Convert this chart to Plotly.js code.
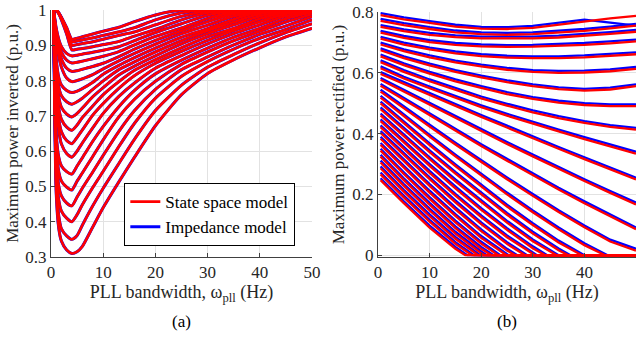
<!DOCTYPE html>
<html>
<head>
<meta charset="utf-8">
<script src="https://cdn.plot.ly/plotly-3.0.1.min.js"></script>
<style>
  html, body { margin: 0; padding: 0; background: #ffffff; }
  #chart { width: 643px; height: 340px; }
</style>
</head>
<body>
<div id="chart"></div>
<script>
// ---------- Panel (a): maximum power inverted ----------
const invX = [0.5, 1, 1.5, 2, 3, 4, 5, 6, 8, 10, 13, 16, 20, 25, 30, 35, 40, 45, 50];
const invCurves = [
  [1.0, 0.48, 0.38, 0.345, 0.32, 0.31, 0.315, 0.33, 0.385, 0.44, 0.513, 0.583, 0.672, 0.76, 0.82, 0.859, 0.893, 0.924, 0.948],
  [1.0, 0.51, 0.415, 0.38, 0.36, 0.35, 0.361, 0.39, 0.445, 0.495, 0.565, 0.634, 0.715, 0.787, 0.838, 0.874, 0.907, 0.936, 0.961],
  [1.0, 0.55, 0.46, 0.43, 0.41, 0.40, 0.42, 0.448, 0.497, 0.543, 0.613, 0.679, 0.75, 0.812, 0.854, 0.889, 0.92, 0.945, 0.972],
  [1.0, 0.585, 0.50, 0.473, 0.453, 0.445, 0.47, 0.495, 0.541, 0.588, 0.656, 0.715, 0.775, 0.831, 0.867, 0.901, 0.931, 0.955, 0.981],
  [1.0, 0.62, 0.54, 0.515, 0.498, 0.49, 0.515, 0.538, 0.585, 0.632, 0.697, 0.747, 0.798, 0.846, 0.881, 0.913, 0.94, 0.966, 0.988],
  [1.0, 0.65, 0.582, 0.558, 0.542, 0.535, 0.558, 0.581, 0.628, 0.67, 0.726, 0.772, 0.819, 0.858, 0.892, 0.923, 0.948, 0.975, 0.994],
  [1.0, 0.75, 0.658, 0.62, 0.593, 0.583, 0.6, 0.623, 0.666, 0.707, 0.755, 0.793, 0.835, 0.871, 0.904, 0.933, 0.958, 0.983, 0.997],
  [1.0, 0.773, 0.689, 0.655, 0.63, 0.621, 0.639, 0.66, 0.702, 0.735, 0.778, 0.814, 0.849, 0.883, 0.914, 0.942, 0.967, 0.989, 1.0],
  [1.0, 0.795, 0.72, 0.69, 0.668, 0.659, 0.674, 0.695, 0.728, 0.76, 0.797, 0.829, 0.859, 0.893, 0.924, 0.948, 0.975, 0.994, 1.0],
  [1.0, 0.818, 0.752, 0.724, 0.705, 0.697, 0.707, 0.722, 0.754, 0.78, 0.816, 0.841, 0.87, 0.904, 0.933, 0.958, 0.982, 0.997, 1.0],
  [1.0, 0.84, 0.781, 0.757, 0.74, 0.733, 0.74, 0.75, 0.775, 0.799, 0.831, 0.853, 0.881, 0.913, 0.941, 0.966, 0.989, 1.0, 1.0],
  [1.0, 0.86, 0.808, 0.787, 0.772, 0.766, 0.77, 0.777, 0.795, 0.818, 0.843, 0.865, 0.892, 0.923, 0.947, 0.974, 0.994, 1.0, 1.0],
  [1.0, 0.919, 0.868, 0.838, 0.807, 0.797, 0.8, 0.805, 0.817, 0.833, 0.856, 0.877, 0.903, 0.933, 0.957, 0.982, 0.997, 1.0, 1.0],
  [1.0, 0.93, 0.887, 0.861, 0.835, 0.826, 0.828, 0.832, 0.84, 0.849, 0.868, 0.889, 0.914, 0.941, 0.967, 0.989, 1.0, 1.0, 1.0],
  [1.0, 0.94, 0.903, 0.88, 0.858, 0.85, 0.852, 0.855, 0.862, 0.869, 0.882, 0.901, 0.925, 0.949, 0.976, 0.994, 1.0, 1.0, 1.0],
  [1.0, 0.948, 0.916, 0.896, 0.877, 0.87, 0.872, 0.875, 0.88, 0.886, 0.896, 0.913, 0.936, 0.961, 0.985, 0.998, 1.0, 1.0, 1.0],
  [1.0, 1.0, 0.989, 0.972, 0.932, 0.887, 0.889, 0.891, 0.896, 0.902, 0.911, 0.926, 0.945, 0.972, 0.992, 1.0, 1.0, 1.0, 1.0],
  [1.0, 1.0, 0.99, 0.975, 0.94, 0.90, 0.902, 0.905, 0.91, 0.917, 0.928, 0.938, 0.958, 0.982, 0.997, 1.0, 1.0, 1.0, 1.0],
  [1.0, 1.0, 0.991, 0.978, 0.946, 0.91, 0.912, 0.915, 0.921, 0.928, 0.938, 0.95, 0.972, 0.992, 1.0, 1.0, 1.0, 1.0, 1.0],
  [1.0, 1.0, 0.992, 0.979, 0.95, 0.917, 0.92, 0.924, 0.932, 0.94, 0.951, 0.967, 0.986, 1.0, 1.0, 1.0, 1.0, 1.0, 1.0]
];

// ---------- Panel (b): maximum power rectified ----------
const recX = [0.5, 5, 10, 15, 20, 25, 30, 35, 40, 45, 50];
const recRed = [
  [0.79, 0.776, 0.764, 0.752, 0.745, 0.744, 0.748, 0.758, 0.77, 0.779, 0.787],
  [0.771, 0.757, 0.744, 0.733, 0.727, 0.725, 0.727, 0.732, 0.738, 0.746, 0.755],
  [0.751, 0.737, 0.725, 0.717, 0.713, 0.712, 0.713, 0.716, 0.721, 0.728, 0.735],
  [0.732, 0.715, 0.701, 0.692, 0.687, 0.685, 0.686, 0.688, 0.692, 0.697, 0.703],
  [0.712, 0.693, 0.677, 0.664, 0.655, 0.65, 0.648, 0.648, 0.651, 0.656, 0.661],
  [0.693, 0.671, 0.651, 0.634, 0.621, 0.61, 0.603, 0.6, 0.601, 0.605, 0.613],
  [0.674, 0.648, 0.624, 0.603, 0.585, 0.569, 0.556, 0.546, 0.541, 0.545, 0.556],
  [0.654, 0.625, 0.597, 0.572, 0.55, 0.53, 0.514, 0.502, 0.494, 0.49, 0.49],
  [0.635, 0.603, 0.572, 0.543, 0.516, 0.492, 0.47, 0.451, 0.435, 0.422, 0.413],
  [0.615, 0.581, 0.549, 0.517, 0.487, 0.459, 0.432, 0.407, 0.382, 0.357, 0.334],
  [0.596, 0.563, 0.527, 0.491, 0.455, 0.42, 0.384, 0.35, 0.316, 0.282, 0.249],
  [0.577, 0.538, 0.494, 0.451, 0.408, 0.366, 0.325, 0.284, 0.244, 0.205, 0.167],
  [0.557, 0.511, 0.459, 0.409, 0.359, 0.311, 0.263, 0.216, 0.171, 0.127, 0.085],
  [0.538, 0.483, 0.423, 0.364, 0.306, 0.25, 0.195, 0.142, 0.092, 0.045, 0.015],
  [0.518, 0.457, 0.39, 0.325, 0.262, 0.2, 0.141, 0.085, 0.033],
  [0.499, 0.433, 0.362, 0.293, 0.225, 0.16, 0.099, 0.042],
  [0.48, 0.413, 0.339, 0.268, 0.199, 0.133, 0.071, 0.016],
  [0.46, 0.391, 0.316, 0.243, 0.174, 0.107, 0.046],
  [0.441, 0.37, 0.294, 0.22, 0.149, 0.083, 0.023],
  [0.421, 0.349, 0.271, 0.196, 0.125, 0.059],
  [0.402, 0.329, 0.25, 0.174, 0.102, 0.037],
  [0.383, 0.308, 0.228, 0.151, 0.079, 0.015],
  [0.363, 0.287, 0.206, 0.129, 0.057],
  [0.344, 0.267, 0.185, 0.108, 0.038],
  [0.324, 0.247, 0.166, 0.089, 0.021],
  [0.305, 0.228, 0.147, 0.071, 0.006],
  [0.286, 0.209, 0.128, 0.054],
  [0.266, 0.19, 0.11, 0.037],
  [0.247, 0.171, 0.091, 0.021]
];
const recRedZero = [null, null, null, null, null, null, null, null, null, null, null, null, null, null,
  44, 39.5, 36.9, 34.6, 32.4, 30.4, 28.5, 26.6, 24.9, 23.3, 22, 20.7, 19.4, 18.2, 16.9];

const recBlue = [
  [0.796, 0.782, 0.77, 0.758, 0.751, 0.75, 0.754, 0.764, 0.775, 0.765, 0.755],
  [0.777, 0.763, 0.75, 0.739, 0.733, 0.731, 0.733, 0.738, 0.744, 0.752, 0.761],
  [0.757, 0.743, 0.731, 0.723, 0.719, 0.718, 0.719, 0.722, 0.727, 0.734, 0.741],
  [0.738, 0.721, 0.707, 0.698, 0.693, 0.691, 0.692, 0.694, 0.698, 0.703, 0.709],
  [0.718, 0.699, 0.683, 0.67, 0.661, 0.656, 0.654, 0.654, 0.657, 0.662, 0.667],
  [0.699, 0.677, 0.657, 0.64, 0.627, 0.616, 0.609, 0.606, 0.607, 0.611, 0.619],
  [0.68, 0.654, 0.63, 0.609, 0.591, 0.575, 0.562, 0.552, 0.547, 0.551, 0.562],
  [0.66, 0.631, 0.603, 0.578, 0.556, 0.536, 0.52, 0.508, 0.5, 0.496, 0.496],
  [0.641, 0.609, 0.578, 0.549, 0.522, 0.498, 0.476, 0.457, 0.441, 0.428, 0.419],
  [0.621, 0.587, 0.555, 0.523, 0.493, 0.465, 0.438, 0.413, 0.388, 0.363, 0.34],
  [0.602, 0.569, 0.533, 0.497, 0.461, 0.426, 0.39, 0.356, 0.322, 0.288, 0.255],
  [0.583, 0.544, 0.5, 0.457, 0.414, 0.372, 0.331, 0.29, 0.25, 0.211, 0.173],
  [0.563, 0.517, 0.465, 0.415, 0.365, 0.317, 0.269, 0.222, 0.177, 0.133, 0.091],
  [0.544, 0.489, 0.429, 0.37, 0.312, 0.256, 0.201, 0.148, 0.098, 0.051, 0.021],
  [0.524, 0.463, 0.396, 0.331, 0.268, 0.206, 0.147, 0.091, 0.039],
  [0.505, 0.439, 0.368, 0.299, 0.231, 0.166, 0.105, 0.048],
  [0.486, 0.419, 0.345, 0.274, 0.205, 0.139, 0.077, 0.022],
  [0.466, 0.397, 0.322, 0.249, 0.18, 0.113, 0.052],
  [0.447, 0.376, 0.3, 0.226, 0.155, 0.089, 0.029],
  [0.427, 0.355, 0.277, 0.202, 0.131, 0.065, 0.009],
  [0.408, 0.335, 0.256, 0.18, 0.108, 0.043],
  [0.389, 0.314, 0.234, 0.157, 0.085, 0.021],
  [0.369, 0.293, 0.212, 0.135, 0.063],
  [0.35, 0.273, 0.191, 0.114, 0.044],
  [0.33, 0.253, 0.172, 0.095, 0.027],
  [0.311, 0.234, 0.153, 0.077, 0.012],
  [0.292, 0.215, 0.134, 0.06],
  [0.272, 0.196, 0.116, 0.043],
  [0.253, 0.177, 0.097, 0.027]
];
const recBlueZero = [null, null, null, null, null, null, null, null, null, null, null, null, null, null,
  44.5, 40, 37.3, 35, 32.8, 30.8, 28.9, 27, 25.3, 23.7, 22.4, 21.1, 19.8, 18.6, 17.3];

// ---------- Ticks and labels ----------
const xTicks = [0, 10, 20, 30, 40, 50];
const invYTicks = [0.3, 0.4, 0.5, 0.6, 0.7, 0.8, 0.9, 1];
const recYTicks = [0, 0.2, 0.4, 0.6, 0.8];
const seriesNames = ['State space model', 'Impedance model'];
const panelLabels = ['(a)', '(b)'];

const RED = '#ff0000', BLUE = '#0000ff';
const FONT = 'Liberation Serif, Times New Roman, serif';

const traces = [];
invCurves.forEach((c, i) => traces.push({
  x: invX, y: c, xaxis: 'x', yaxis: 'y', type: 'scatter', mode: 'lines',
  line: {color: BLUE, width: 3.0, shape: 'spline', smoothing: 0.6}, name: seriesNames[1], legendrank: 2,
  showlegend: i === 0, hoverinfo: 'skip'
}));
function recXY(vals, z) {
  const xs = recX.slice(0, vals.length);
  const ys = vals.slice();
  if (z !== null) { xs.push(z, recX[recX.length - 1]); ys.push(0, 0); }
  return {xs, ys};
}
recBlue.forEach((c, i) => {
  const d = recXY(c, recBlueZero[i]);
  traces.push({x: d.xs, y: d.ys, xaxis: 'x2', yaxis: 'y2', type: 'scatter', mode: 'lines',
    line: {color: BLUE, width: 2.3}, showlegend: false, hoverinfo: 'skip'});
});
invCurves.forEach((c, i) => traces.push({
  x: invX, y: c, xaxis: 'x', yaxis: 'y', type: 'scatter', mode: 'lines',
  line: {color: RED, width: 2.6, shape: 'spline', smoothing: 0.6}, name: seriesNames[0], legendrank: 1,
  showlegend: i === 0, hoverinfo: 'skip'
}));
recRed.forEach((c, i) => {
  const d = recXY(c, recRedZero[i]);
  traces.push({x: d.xs, y: d.ys, xaxis: 'x2', yaxis: 'y2', type: 'scatter', mode: 'lines',
    line: {color: RED, width: 2.3}, showlegend: false, hoverinfo: 'skip'});
});

const axisCommon = {
  showgrid: true, gridcolor: '#e2e2e2', gridwidth: 1,
  zeroline: false, showline: true, linecolor: '#404040', linewidth: 1,
  ticks: 'inside', ticklen: 4, tickcolor: '#404040', tickwidth: 1,
  tickfont: {family: FONT, size: 17, color: '#262626'},
  mirror: false, fixedrange: true
};
const xTitle = {text: 'PLL bandwidth, ω<sub>pll</sub> (Hz)', font: {family: FONT, size: 18, color: '#262626'}, standoff: 3};

const layout = {
  width: 643, height: 340,
  margin: {l: 51, r: 7, t: 10, b: 83},
  paper_bgcolor: '#ffffff', plot_bgcolor: '#ffffff',
  font: {family: FONT, size: 17, color: '#262626'},
  showlegend: true,
  legend: {
    x: 0.125, y: 0.30, xanchor: 'left', yanchor: 'top',
    bgcolor: '#ffffff', bordercolor: '#000000', borderwidth: 1.2,
    font: {family: FONT, size: 17, color: '#000000'},
    tracegroupgap: 0, itemwidth: 30
  },
  xaxis: Object.assign({}, axisCommon, {domain: [0, 0.4462], range: [0, 50], tickvals: xTicks, title: xTitle, anchor: 'y'}),
  yaxis: Object.assign({}, axisCommon, {domain: [0, 1], range: [0.3, 1], tickvals: invYTicks, anchor: 'x',
    title: {text: 'Maximum power inverted (p.u.)', font: {family: FONT, size: 17, color: '#262626'}, standoff: 2}}),
  xaxis2: Object.assign({}, axisCommon, {domain: [0.559, 1], range: [0, 50], tickvals: xTicks, title: xTitle, anchor: 'y2'}),
  yaxis2: Object.assign({}, axisCommon, {domain: [0, 0.992], range: [-0.006, 0.8], tickvals: recYTicks, anchor: 'x2',
    title: {text: 'Maximum power rectified (p.u.)', font: {family: FONT, size: 17, color: '#262626'}, standoff: 3}}),
  annotations: [
    {text: panelLabels[0], xref: 'paper', yref: 'paper', x: 0.2231, y: -0.263, xanchor: 'center', yanchor: 'middle',
      showarrow: false, font: {family: FONT, size: 17, color: '#000000'}},
    {text: panelLabels[1], xref: 'paper', yref: 'paper', x: 0.7795, y: -0.263, xanchor: 'center', yanchor: 'middle',
      showarrow: false, font: {family: FONT, size: 17, color: '#000000'}}
  ]
};

Plotly.newPlot('chart', traces, layout, {staticPlot: true, displayModeBar: false});
</script>
</body>
</html>
